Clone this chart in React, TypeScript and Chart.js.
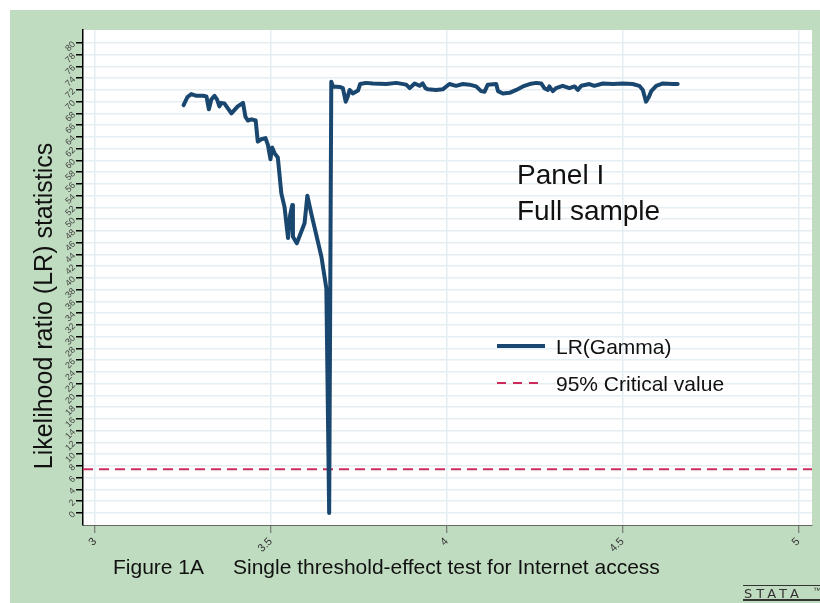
import React, { useEffect, useRef } from 'react';
import { Chart, registerables } from 'chart.js';

Chart.register(...registerables);

// ---- data ----
const lrX = [
  3.252, 3.263, 3.274, 3.289, 3.307, 3.317, 3.324, 3.331, 3.340, 3.347,
  3.354, 3.359, 3.368, 3.388, 3.406, 3.421, 3.428, 3.435, 3.445, 3.457,
  3.463, 3.473, 3.485, 3.492, 3.499, 3.504, 3.511, 3.520, 3.530, 3.539,
  3.549, 3.555, 3.561, 3.563, 3.574, 3.596, 3.604, 3.615, 3.644, 3.658,
  3.666, 3.672, 3.677, 3.696, 3.705, 3.713, 3.719, 3.724, 3.733, 3.748,
  3.754, 3.771, 3.790, 3.828, 3.857, 3.885, 3.895, 3.909, 3.923, 3.932,
  3.940, 3.947, 3.970, 3.989, 4.008, 4.027, 4.046, 4.065, 4.084, 4.098,
  4.108, 4.117, 4.141, 4.146, 4.160, 4.179, 4.198, 4.217, 4.236, 4.255,
  4.269, 4.278, 4.288, 4.292, 4.302, 4.311, 4.330, 4.349, 4.364, 4.373,
  4.383, 4.406, 4.420, 4.444, 4.473, 4.501, 4.529, 4.548, 4.558, 4.567,
  4.575, 4.582, 4.596, 4.615, 4.643, 4.657,
];
const lrY = [
  69.4, 70.8, 71.3, 71.0, 71.0, 70.9, 68.7, 70.4, 71.0, 70.4,
  69.2, 69.8, 69.7, 68.0, 69.2, 69.8, 67.4, 66.8, 67.0, 66.8,
  63.2, 63.6, 63.8, 62.6, 60.2, 62.2, 61.2, 60.5, 54.4, 52.1,
  46.8, 50.7, 52.4, 47.0, 45.9, 49.3, 54.0, 51.0, 43.6, 38.2,
  0.0, 73.4, 72.6, 72.5, 72.3, 70.0, 70.9, 72.0, 71.4, 71.9,
  73.0, 73.2, 73.1, 73.0, 73.2, 72.9, 72.3, 73.1, 72.7, 73.1,
  72.3, 72.1, 72.0, 72.1, 73.0, 72.7, 73.0, 72.9, 72.6, 71.8,
  71.7, 72.9, 73.0, 71.8, 71.4, 71.5, 72.0, 72.6, 73.0, 73.2,
  73.1, 72.3, 72.0, 72.6, 71.8, 72.3, 72.7, 72.3, 72.6, 72.0,
  72.7, 73.0, 72.7, 73.1, 73.0, 73.1, 73.0, 72.7, 72.0, 70.0,
  70.8, 71.8, 72.7, 73.1, 73.0, 73.0,
];
const criticalValue = 7.45;
const xTickValues = [3, 3.5, 4, 4.5, 5];
const yTickValues = [
  0, 2, 4, 6, 8, 10, 12, 14, 16, 18, 20, 22, 24, 26, 28, 30, 32, 34, 36, 38, 40,
  42, 44, 46, 48, 50, 52, 54, 56, 58, 60, 62, 64, 66, 68, 70, 72, 74, 76, 78, 80,
];
const xRange = [2.966, 5.039];
const yRange = [-2.05, 82.2];
const seriesLabels = ['LR(Gamma)', '95% Critical value'];
const panelLines = ['Panel I', 'Full sample'];
const yTitle = 'Likelihood ratio (LR) statistics';
const figureLabel = 'Figure 1A';
const figureTitle = 'Single threshold-effect test for Internet access';

// ---- styles ----
const FONT = '"Liberation Sans", Arial, Helvetica, sans-serif';
const GREEN = '#c0dcc0';
const NAVY = '#1a476f';
const RED = '#cc2c5c';
const GRID = '#e5eef2';

const decorPlugin = {
  id: 'decor',
  beforeDraw(chart: any) {
    const { ctx, chartArea: a, width, height } = chart;
    ctx.save();
    ctx.fillStyle = GREEN;
    ctx.fillRect(0, 0, width, height);
    ctx.fillStyle = '#ffffff';
    ctx.fillRect(a.left, a.top, a.right - a.left, a.bottom - a.top);
    ctx.restore();
  },
  afterDraw(chart: any) {
    const { ctx } = chart;
    const ds = chart.data.datasets;
    ctx.save();
    ctx.fillStyle = '#111';

    // y-axis title
    ctx.save();
    ctx.translate(42, 296);
    ctx.rotate(-Math.PI / 2);
    ctx.font = `25px ${FONT}`;
    ctx.textAlign = 'center';
    ctx.textBaseline = 'alphabetic';
    ctx.fillText(yTitle, 0, 0);
    ctx.restore();

    // bottom captions
    ctx.font = `21px ${FONT}`;
    ctx.textAlign = 'left';
    ctx.textBaseline = 'middle';
    ctx.fillText(figureLabel, 103, 558);
    ctx.fillText(figureTitle, 223, 558);

    // panel text
    ctx.font = `28px ${FONT}`;
    ctx.textBaseline = 'alphabetic';
    ctx.fillText(panelLines[0], 507, 174);
    ctx.fillText(panelLines[1], 507, 210);

    // legend
    ctx.lineCap = 'butt';
    ctx.strokeStyle = ds[0].borderColor;
    ctx.lineWidth = ds[0].borderWidth;
    ctx.setLineDash([]);
    ctx.beginPath();
    ctx.moveTo(487, 336);
    ctx.lineTo(535, 336);
    ctx.stroke();
    ctx.strokeStyle = ds[1].borderColor;
    ctx.lineWidth = ds[1].borderWidth;
    ctx.setLineDash([9, 7]);
    ctx.beginPath();
    ctx.moveTo(487, 373);
    ctx.lineTo(535, 373);
    ctx.stroke();
    ctx.setLineDash([]);
    ctx.font = `21px ${FONT}`;
    ctx.fillStyle = '#111';
    ctx.fillText(ds[0].label, 546, 344);
    ctx.fillText(ds[1].label, 546, 381);

    // stata logo
    ctx.strokeStyle = '#333';
    ctx.lineWidth = 1;
    ctx.beginPath();
    ctx.moveTo(733, 575.5);
    ctx.lineTo(810, 575.5);
    ctx.stroke();
    ctx.lineWidth = 2;
    ctx.beginPath();
    ctx.moveTo(733, 590);
    ctx.lineTo(810, 590);
    ctx.stroke();
    ctx.fillStyle = '#333';
    ctx.font = `13px "DejaVu Sans", ${FONT}`;
    (ctx as any).letterSpacing = '4px';
    ctx.textBaseline = 'alphabetic';
    ctx.fillText('STATA', 734, 588);
    (ctx as any).letterSpacing = '0px';
    ctx.font = `8px ${FONT}`;
    ctx.fillText('™', 803, 583);

    ctx.restore();
  },
};

export default function App() {
  const ref = useRef<HTMLCanvasElement | null>(null);

  useEffect(() => {
    if (!ref.current) return;
    const lrData = lrX.map((x, i) => ({ x, y: lrY[i] }));
    const critData = [
      { x: xRange[0], y: criticalValue },
      { x: xRange[1], y: criticalValue },
    ];
    const chart = new Chart(ref.current, {
      type: 'line',
      data: {
        datasets: [
          {
            label: seriesLabels[0],
            data: lrData,
            borderColor: NAVY,
            backgroundColor: NAVY,
            borderWidth: 4,
            pointRadius: 0,
            tension: 0,
            borderJoinStyle: 'round',
            borderCapStyle: 'round',
          },
          {
            label: seriesLabels[1],
            data: critData,
            borderColor: RED,
            backgroundColor: RED,
            borderWidth: 2,
            borderDash: [10, 6],
            pointRadius: 0,
            tension: 0,
          },
        ],
      },
      options: {
        animation: false,
        responsive: false,
        devicePixelRatio: 1,
        layout: { padding: { left: 0, top: 20, right: 8, bottom: 0 } },
        plugins: {
          legend: { display: false },
          tooltip: { enabled: false },
          title: { display: false },
        },
        scales: {
          x: {
            type: 'linear',
            min: xRange[0],
            max: xRange[1],
            afterBuildTicks: (s: any) => {
              s.ticks = xTickValues.map((v) => ({ value: v }));
            },
            afterFit: (s: any) => {
              s.height = 78;
            },
            grid: {
              color: GRID,
              lineWidth: 1.5,
              tickLength: 8,
              tickColor: '#666',
              tickWidth: 1,
            },
            border: { display: true, color: '#666', width: 1 },
            ticks: {
              minRotation: 45,
              maxRotation: 45,
              autoSkip: false,
              padding: 2,
              color: '#333',
              font: { family: FONT, size: 11 },
              callback: (v: any) => String(v),
            },
          },
          y: {
            type: 'linear',
            min: yRange[0],
            max: yRange[1],
            afterBuildTicks: (s: any) => {
              s.ticks = yTickValues.map((v) => ({ value: v }));
            },
            afterFit: (s: any) => {
              s.width = 73;
            },
            grid: {
              color: GRID,
              lineWidth: 1.5,
              tickLength: 7,
              tickColor: '#000',
              tickWidth: 1.5,
            },
            border: { display: true, color: '#000', width: 1.5 },
            ticks: {
              minRotation: 45,
              maxRotation: 45,
              autoSkip: false,
              padding: 2,
              color: '#444',
              font: { family: FONT, size: 9 },
              callback: (v: any) => String(v),
            },
          },
        },
      },
      plugins: [decorPlugin],
    } as any);
    return () => chart.destroy();
  }, []);

  return (
    <div style={{ position: 'fixed', left: 10, top: 10, width: 810, height: 593 }}>
      <canvas
        ref={ref}
        width={810}
        height={593}
        style={{ display: 'block', width: 810, height: 593 }}
      />
    </div>
  );
}
